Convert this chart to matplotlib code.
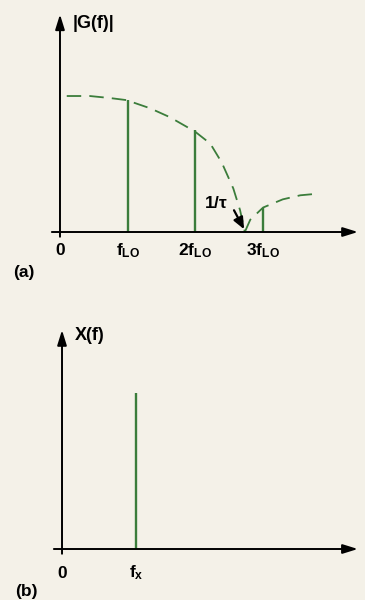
import matplotlib
matplotlib.use("Agg")
import matplotlib.pyplot as plt

# frequency axis in units of f_LO, amplitude normalised to G(0)
stem_freqs = [1, 2, 3]
stem_heights = [0.97, 0.75, 0.18]

# hand-traced envelope |G(f)|, main lobe and first side lobe
lobe1_f = [0.10, 0.44, 0.74, 0.98, 1.33, 1.62, 1.99, 2.22, 2.39, 2.56, 2.66, 2.73]
lobe1_g = [1.00, 1.00, 0.985, 0.97, 0.91, 0.845, 0.74, 0.65, 0.51, 0.32, 0.16, 0.0]
lobe2_f = [2.73, 2.81, 3.00, 3.29, 3.55, 3.77]
lobe2_g = [0.0, 0.09, 0.18, 0.24, 0.27, 0.28]
zero_f = 2.73

tick_pos_a = [0, 1, 2, 3]
tick_lab_a = ["0", r"f$_{\mathregular{LO}}$", r"2f$_{\mathregular{LO}}$", r"3f$_{\mathregular{LO}}$"]

x_freq = [1.1]
x_amp = [1.15]
tick_pos_b = [0, 1.1]
tick_lab_b = ["0", r"f$_{\mathregular{x}}$"]

BG = "#f4f1e8"
GREEN = "#3b7d3b"
plt.rcParams["font.family"] = ["Liberation Sans", "DejaVu Sans"]
plt.rcParams["font.weight"] = "bold"
plt.rcParams["mathtext.default"] = "regular"

fig = plt.figure(figsize=(3.65, 6.0), dpi=100, facecolor=BG)
ax_a = fig.add_axes([0, 0.5, 1, 0.5])
ax_b = fig.add_axes([0, 0, 1, 0.5])
for ax in (ax_a, ax_b):
    ax.set_axis_off()
    ax.patch.set_alpha(0)

ax_a.set_xlim(-0.886, 4.505)
ax_a.set_ylim(-0.5, 1.706)
ax_b.set_xlim(-0.916, 4.476)
ax_b.set_ylim(-0.375, 1.831)

arrow = dict(arrowstyle="-|>,head_length=0.9,head_width=0.28", color="black", lw=1.4,
             shrinkA=0, shrinkB=0)


def draw_axes(ax, x_end, y_end):
    ax.annotate("", xy=(x_end, 0), xytext=(-0.12, 0), arrowprops=arrow)
    ax.annotate("", xy=(0, y_end), xytext=(0, -0.035), arrowprops=arrow)


draw_axes(ax_a, 4.4, 1.6)
ax_a.plot(lobe1_f, lobe1_g, color=GREEN, lw=1.3, dashes=(8, 4.5))
ax_a.plot(lobe2_f, lobe2_g, color=GREEN, lw=1.3, dashes=(8, 4.5))
ax_a.vlines(stem_freqs, 0, stem_heights, color=GREEN, lw=1.7)
for p, lab in zip(tick_pos_a, tick_lab_a):
    ax_a.text(p, -0.17, lab, ha="center", va="baseline", fontsize=12.5, fontweight="bold")
ax_a.text(0.19, 1.53, "|G(f)|", ha="left", va="center", fontsize=13, fontweight="bold")
ax_a.text(-0.69, -0.30, "(a)", ha="left", va="center", fontsize=12.5, fontweight="bold")
ax_a.text(2.13, 0.21, r"1/$\tau$", ha="left", va="center", fontsize=12.5, fontweight="bold")
ax_a.annotate("", xy=(zero_f - 0.01, 0.02), xytext=(2.57, 0.16),
              arrowprops=dict(arrowstyle="-|>,head_length=0.7,head_width=0.3",
                              color="black", lw=1.6, shrinkA=0, shrinkB=0))

draw_axes(ax_b, 4.37, 1.61)
ax_b.vlines(x_freq, 0, x_amp, color=GREEN, lw=1.7)
for p, lab in zip(tick_pos_b, tick_lab_b):
    ax_b.text(p, -0.21, lab, ha="center", va="baseline", fontsize=12.5, fontweight="bold")
ax_b.text(0.19, 1.57, "X(f)", ha="left", va="center", fontsize=13, fontweight="bold")
ax_b.text(-0.69, -0.31, "(b)", ha="left", va="center", fontsize=12.5, fontweight="bold")

fig.savefig("out.png", dpi=100, facecolor=BG)
